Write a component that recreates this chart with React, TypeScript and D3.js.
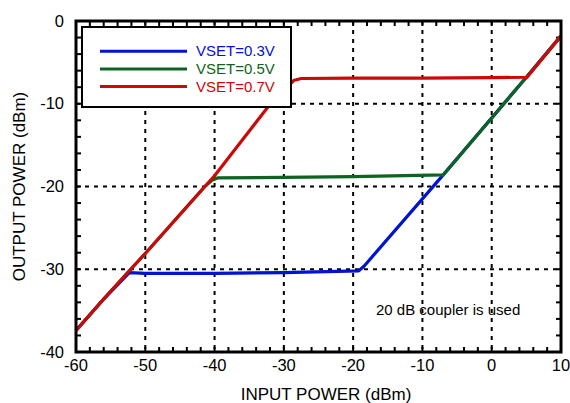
import React, { useEffect, useRef } from "react";
import * as d3 from "d3";

const xTicks = [-60, -50, -40, -30, -20, -10, 0, 10];
const yTicks = [0, -10, -20, -30, -40];
const gridX = [-50, -40, -30, -20, -10, 0];
const gridY = [-10, -20, -30];

const vset03X = [-60, -56, -52.3, -50, -40, -30, -19.2, -18.4, -7, 5, 10];
const vset03Y = [-37.4, -33.6, -30.4, -30.5, -30.5, -30.4, -30.2, -29.6, -18.6, -6.8, -1.8];
const vset05X = [-60, -56, -52.1, -50, -41.4, -40.3, -39.5, -30, -20, -7, 5, 10];
const vset05Y = [-37.4, -33.6, -30, -28.1, -20, -19.2, -18.95, -18.9, -18.8, -18.6, -6.8, -1.8];
const vset07X = [-60, -56, -52.1, -50, -41.4, -40, -32.3, -28.6, -27.5, -20, -10, 0, 5.1, 10];
const vset07Y = [-37.4, -33.6, -30, -28.1, -20, -18.7, -10.4, -7.2, -6.95, -6.9, -6.9, -6.85, -6.8, -1.8];

const seriesNames = ["VSET=0.3V", "VSET=0.5V", "VSET=0.7V"];
const seriesColors = ["#0012d6", "#0c6420", "#cc0808"];

export default function App() {
  const ref = useRef<SVGSVGElement>(null);
  useEffect(() => {
    const svg = d3.select(ref.current);
    svg.selectAll("*").remove();
    const L = 76, R = 561, T = 21, B = 352;
    const x = d3.scaleLinear().domain([-60, 10]).range([L, R]);
    const y = d3.scaleLinear().domain([-40, 0]).range([B, T]);
    const font = "'Liberation Sans', Arial, Helvetica, sans-serif";

    svg.append("rect").attr("width", 570).attr("height", 403).attr("fill", "#fff");

    // gridlines
    gridX.forEach((v) =>
      svg.append("line").attr("x1", x(v)).attr("x2", x(v)).attr("y1", T).attr("y2", B)
        .attr("stroke", "#000").attr("stroke-width", 2).attr("stroke-dasharray", "4,5"));
    gridY.forEach((v) =>
      svg.append("line").attr("x1", L).attr("x2", R).attr("y1", y(v)).attr("y2", y(v))
        .attr("stroke", "#000").attr("stroke-width", 2).attr("stroke-dasharray", "4,5"));

    // minor ticks
    const tl = 5;
    d3.range(-60, 10.01, 2).forEach((v) => {
      svg.append("line").attr("x1", x(v)).attr("x2", x(v)).attr("y1", B).attr("y2", B - tl).attr("stroke", "#000").attr("stroke-width", 2);
      svg.append("line").attr("x1", x(v)).attr("x2", x(v)).attr("y1", T).attr("y2", T + tl).attr("stroke", "#000").attr("stroke-width", 2);
    });
    d3.range(-40, 0.01, 2).forEach((v) => {
      svg.append("line").attr("x1", L).attr("x2", L + tl).attr("y1", y(v)).attr("y2", y(v)).attr("stroke", "#000").attr("stroke-width", 2);
      svg.append("line").attr("x1", R).attr("x2", R - tl).attr("y1", y(v)).attr("y2", y(v)).attr("stroke", "#000").attr("stroke-width", 2);
    });

    // data lines
    const line = d3.line<[number, number]>().x((d) => x(d[0])).y((d) => y(d[1]));
    const data = [
      vset03X.map((v, i) => [v, vset03Y[i]] as [number, number]),
      vset05X.map((v, i) => [v, vset05Y[i]] as [number, number]),
      vset07X.map((v, i) => [v, vset07Y[i]] as [number, number]),
    ];
    data.forEach((d, i) =>
      svg.append("path").attr("d", line(d)!).attr("fill", "none")
        .attr("stroke", seriesColors[i]).attr("stroke-width", 3.2).attr("stroke-linejoin", "round"));

    // frame
    svg.append("rect").attr("x", L).attr("y", T).attr("width", R - L).attr("height", B - T)
      .attr("fill", "none").attr("stroke", "#000").attr("stroke-width", 3);

    // legend
    svg.append("rect").attr("x", 82).attr("y", 27).attr("width", 209).attr("height", 80)
      .attr("fill", "#fff").attr("stroke", "#000").attr("stroke-width", 2);
    seriesNames.forEach((n, i) => {
      const ly = 51.3 + i * 17.6;
      svg.append("line").attr("x1", 100).attr("x2", 187).attr("y1", ly).attr("y2", ly)
        .attr("stroke", seriesColors[i]).attr("stroke-width", 3);
      svg.append("text").attr("x", 196).attr("y", ly + 5).text(n)
        .attr("fill", seriesColors[i]).attr("font-family", font).attr("font-size", 15);
    });

    // tick labels
    xTicks.forEach((v) =>
      svg.append("text").attr("x", x(v)).attr("y", 371).attr("text-anchor", "middle")
        .attr("font-family", font).attr("font-size", 16.5).text(String(v)));
    yTicks.forEach((v) =>
      svg.append("text").attr("x", 64).attr("y", y(v) + 5.5).attr("text-anchor", "end")
        .attr("font-family", font).attr("font-size", 16.5).text(String(v)));

    // titles
    svg.append("text").attr("x", 326).attr("y", 400).attr("text-anchor", "middle")
      .attr("font-family", font).attr("font-size", 17).text("INPUT POWER (dBm)");
    svg.append("text").attr("transform", `translate(25,${(T + B) / 2}) rotate(-90)`)
      .attr("text-anchor", "middle").attr("font-family", font).attr("font-size", 17)
      .text("OUTPUT POWER (dBm)");

    // annotation
    svg.append("text").attr("x", 376).attr("y", 315).attr("font-family", font)
      .attr("font-size", 15).text("20 dB coupler is used");
  }, []);
  return (
    <svg ref={ref} width={570} height={403}
      style={{ position: "absolute", left: 0, top: 0, display: "block" }} />
  );
}
